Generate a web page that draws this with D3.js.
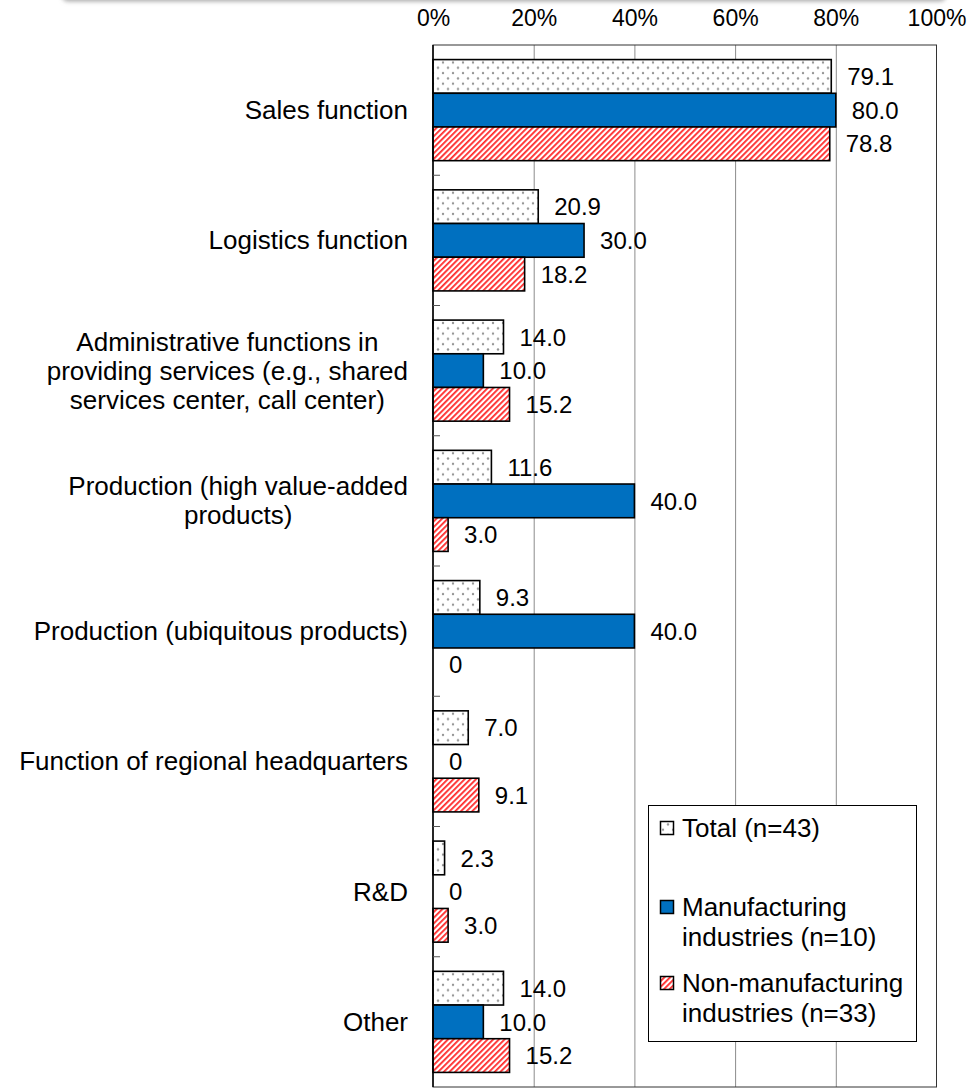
<!DOCTYPE html>
<html>
<head>
<meta charset="utf-8">
<script src="https://cdn.jsdelivr.net/npm/d3@7"></script>
<style>
  body { margin: 0; background: #fff; }
  svg { display: block; }
</style>
</head>
<body>
<div id="chart"></div>
<script>
let categories = [
    "Sales function",
    "Logistics function",
    "Administrative functions in\nproviding services (e.g., shared\nservices center, call center)",
    "Production (high value-added\nproducts)",
    "Production (ubiquitous products)",
    "Function of regional headquarters",
    "R&D",
    "Other"
]
let seriesKeys = ["total", "manufacturing", "nonManufacturing"]
let seriesNames = [
    "Total (n=43)",
    "Manufacturing\nindustries (n=10)",
    "Non-manufacturing\nindustries (n=33)"
]
let total = [79.1, 20.9, 14.0, 11.6, 9.3, 7.0, 2.3, 14.0]
let manufacturing = [80.0, 30.0, 10.0, 40.0, 40.0, 0, 0, 10.0]
let nonManufacturing = [78.8, 18.2, 15.2, 3.0, 0, 9.1, 3.0, 15.2]
let tickValues = [0, 20, 40, 60, 80, 100]

let width = 971
let height = 1088
let margin = { left: 433, top: 45, right: 34.5, bottom: 1 }
let labelFont = "'Liberation Sans', Arial, sans-serif"
let numFont = "'Liberation Sans', Arial, sans-serif"

let rows = categories.map(function(c, i) {
    return { cat: c, total: total[i], manufacturing: manufacturing[i], nonManufacturing: nonManufacturing[i] }
})

let svg = d3.select("#chart")
    .append("svg")
    .attr("width", width)
    .attr("height", height)
    .attr("viewBox", [0, 0, width, height])

let defs = svg.append("defs")

// dotted fill for Total
let dots = defs.append("pattern")
    .attr("id", "dots")
    .attr("patternUnits", "userSpaceOnUse")
    .attr("width", 10)
    .attr("height", 10.6)
dots.append("rect").attr("width", 10).attr("height", 10.6).attr("fill", "#fff")
dots.append("circle").attr("cx", 3).attr("cy", 3).attr("r", 1.2).attr("fill", "#959595")
dots.append("circle").attr("cx", 8).attr("cy", 8.3).attr("r", 1.2).attr("fill", "#959595")

// red diagonal hatch for non-manufacturing
let hatch = defs.append("pattern")
    .attr("id", "hatch")
    .attr("patternUnits", "userSpaceOnUse")
    .attr("width", 4)
    .attr("height", 4)
    .attr("patternTransform", "rotate(45)")
hatch.append("rect").attr("width", 4).attr("height", 4).attr("fill", "#fff")
hatch.append("rect").attr("width", 1.8).attr("height", 4).attr("fill", "#ff2a2a")

let shadow = defs.append("filter")
    .attr("id", "shadow")
    .attr("x", "-5%").attr("y", "-50%")
    .attr("width", "110%").attr("height", "200%")
shadow.append("feDropShadow")
    .attr("dx", 0).attr("dy", 1.5)
    .attr("stdDeviation", 2)
    .attr("flood-color", "#888")
    .attr("flood-opacity", 0.7)

let fills = { total: "url(#dots)", manufacturing: "#0070C0", nonManufacturing: "url(#hatch)" }

svg.append("rect")
    .attr("width", width)
    .attr("height", height)
    .attr("fill", "#fff")

// shadow of the box above the chart
svg.append("rect")
    .attr("x", 62).attr("y", -40)
    .attr("width", 884).attr("height", 40)
    .attr("rx", 6)
    .attr("fill", "#fff")
    .attr("filter", "url(#shadow)")

let x = d3.scaleLinear()
    .domain([0, 100])
    .range([margin.left, width - margin.right])

let y = d3.scaleBand()
    .domain(d3.range(categories.length))
    .range([margin.top, height - margin.bottom])
    .paddingInner(0.224)
    .paddingOuter(0.112)

let ySub = d3.scaleBand()
    .domain(seriesKeys)
    .range([0, y.bandwidth()])

let plotTop = margin.top
let plotBottom = height - margin.bottom

// gridlines
svg.append("g")
    .attr("transform", "translate(0," + plotTop + ")")
    .call(d3.axisTop(x).tickValues(tickValues.slice(1, 5)).tickSize(-(plotBottom - plotTop)).tickFormat(""))
    .call(g => g.select(".domain").remove())
    .selectAll("line")
    .attr("stroke", "#8c8c8c")
    .attr("stroke-width", 1)

// plot frame
svg.append("rect")
    .attr("x", x(0))
    .attr("y", plotTop)
    .attr("width", x(100) - x(0))
    .attr("height", plotBottom - plotTop)
    .attr("fill", "none")
    .attr("stroke", "#333")
    .attr("stroke-width", 1)

// tick labels on top
svg.append("g")
    .attr("transform", "translate(0," + plotTop + ")")
    .call(d3.axisTop(x).tickValues(tickValues).tickSize(0).tickPadding(19).tickFormat(d => d + "%"))
    .call(g => g.select(".domain").remove())
    .selectAll("text")
    .attr("font-family", numFont)
    .attr("font-size", 23)
    .attr("fill", "#000")

// bars
let groups = svg.append("g")
    .selectAll("g")
    .data(rows)
    .enter()
    .append("g")
    .attr("transform", (d, i) => "translate(0," + y(i) + ")")

groups.selectAll("rect")
    .data(d => seriesKeys.map(k => ({ key: k, value: d[k] })))
    .enter()
    .append("rect")
    .attr("x", x(0))
    .attr("y", d => ySub(d.key))
    .attr("width", d => x(d.value) - x(0))
    .attr("height", ySub.bandwidth())
    .attr("fill", d => fills[d.key])
    .attr("stroke", d => d.value > 0 ? "#000" : "none")
    .attr("stroke-width", 1.6)

groups.selectAll("text")
    .data(d => seriesKeys.map(k => ({ key: k, value: d[k] })))
    .enter()
    .append("text")
    .attr("x", d => x(d.value) + 16)
    .attr("y", d => ySub(d.key) + ySub.bandwidth() / 2)
    .attr("dy", "0.36em")
    .attr("font-family", numFont)
    .attr("font-size", 24)
    .attr("fill", "#000")
    .text(d => d.value === 0 ? "0" : d.value.toFixed(1))

// left axis line with inner ticks at category boundaries
svg.append("line")
    .attr("x1", x(0)).attr("x2", x(0))
    .attr("y1", plotTop).attr("y2", plotBottom)
    .attr("stroke", "#000")
    .attr("stroke-width", 1.5)

svg.append("g")
    .selectAll("line")
    .data(d3.range(1, categories.length))
    .enter()
    .append("line")
    .attr("x1", x(0)).attr("x2", x(0) + 7)
    .attr("y1", i => y(i) - y.step() * y.paddingInner() / 2)
    .attr("y2", i => y(i) - y.step() * y.paddingInner() / 2)
    .attr("stroke", "#555")
    .attr("stroke-width", 1)

// category labels, centred block ending at x = 408
let lineH = 29
let catLabels = svg.append("g")
    .selectAll("text")
    .data(rows)
    .enter()
    .append("text")
    .attr("font-family", labelFont)
    .attr("font-size", 26)
    .attr("fill", "#000")
    .attr("text-anchor", "middle")

catLabels.each(function(d, i) {
    let lines = d.cat.split("\n")
    let t = d3.select(this)
    let cy = y(i) + y.bandwidth() / 2
    let y0 = cy - (lines.length - 1) * lineH / 2
    lines.forEach(function(l, j) {
        t.append("tspan")
            .attr("y", y0 + j * lineH)
            .attr("dy", "0.35em")
            .text(l)
    })
    let maxW = 0
    t.selectAll("tspan").each(function() {
        maxW = Math.max(maxW, this.getComputedTextLength())
    })
    t.selectAll("tspan").attr("x", 408 - maxW / 2)
})

// legend
let legend = svg.append("g")
legend.append("rect")
    .attr("x", 648.5).attr("y", 805.5)
    .attr("width", 268).attr("height", 236)
    .attr("fill", "#fff")
    .attr("stroke", "#000")
    .attr("stroke-width", 1)

let legendY = [828, 907, 983]
seriesKeys.forEach(function(k, i) {
    legend.append("rect")
        .attr("x", 660.5).attr("y", legendY[i] - 6.5)
        .attr("width", 13).attr("height", 13)
        .attr("fill", fills[k])
        .attr("stroke", "#000")
        .attr("stroke-width", 1.5)
    let t = legend.append("text")
        .attr("font-family", labelFont)
        .attr("font-size", 26)
        .attr("fill", "#000")
    seriesNames[i].split("\n").forEach(function(l, j) {
        t.append("tspan")
            .attr("x", 682)
            .attr("y", legendY[i] + j * 30)
            .attr("dy", "0.35em")
            .text(l)
    })
})
</script>
</body>
</html>
